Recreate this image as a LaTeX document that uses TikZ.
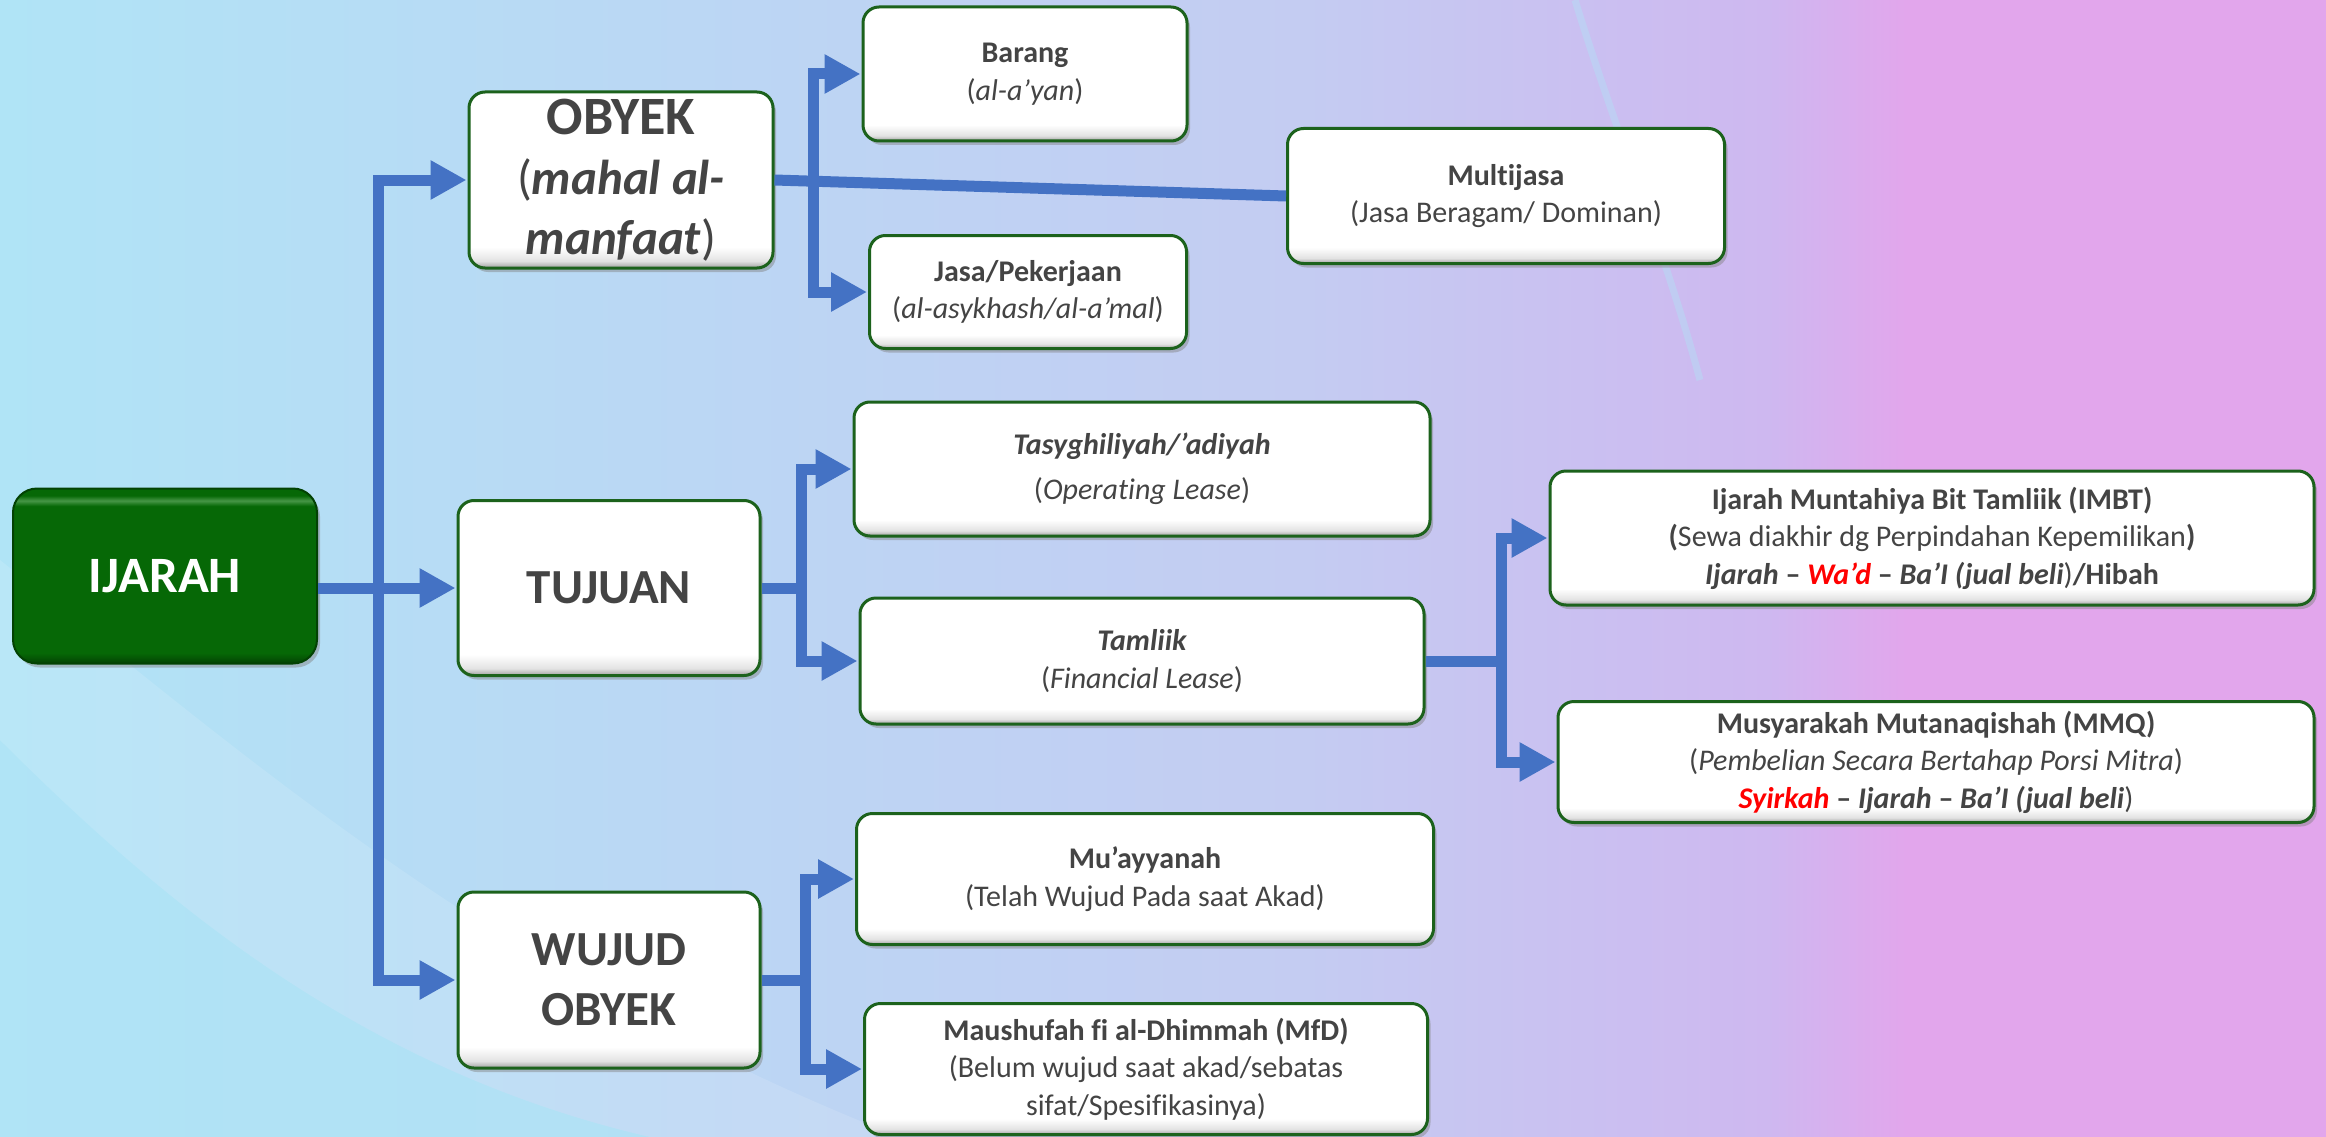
\documentclass[tikz,border=0pt]{standalone}
\usepackage{fontspec}
\setmainfont{Carlito}[Ligatures=NoCommon]
\usetikzlibrary{arrows.meta,shadows}
\definecolor{lineblue}{RGB}{68,114,196}
\definecolor{boxgreen}{RGB}{28,98,28}
\definecolor{txt}{RGB}{68,68,68}
\definecolor{ijgreen}{RGB}{6,104,6}
\definecolor{ijdark}{RGB}{3,66,3}
\definecolor{ijlight}{RGB}{70,150,70}
\definecolor{bevelgray}{RGB}{160,160,160}
\definecolor{bgA}{RGB}{176,228,246}
\definecolor{bgB}{RGB}{196,204,242}
\definecolor{bgC}{RGB}{206,184,240}
\definecolor{bgD}{RGB}{226,166,236}
\definecolor{redtext}{RGB}{255,0,0}
\pgfdeclareverticalshading{bevel}{100bp}{color(0bp)=(bevelgray); color(25bp)=(bevelgray); color(27bp)=(white!70!bevelgray); color(31bp)=(white); color(100bp)=(white)}
\pgfdeclareverticalshading{ijshade}{100bp}{color(0bp)=(ijdark); color(25bp)=(ijdark); color(28bp)=(ijgreen); color(70bp)=(ijgreen); color(71.5bp)=(ijlight); color(73bp)=(ijgreen); color(75bp)=(ijgreen); color(100bp)=(ijgreen)}
\pgfdeclarehorizontalshading{bgshade}{100bp}{color(0bp)=(bgA); color(25bp)=(bgA); color(40bp)=(bgB!55!bgA); color(53bp)=(bgB); color(63bp)=(bgC); color(66bp)=(bgD); color(75bp)=(bgD); color(100bp)=(bgD)}
\newcommand\myBig{\fontsize{49}{60}\selectfont}
\newcommand\myHuge{\fontsize{54}{60}\selectfont}
\newcommand\mySmall{\fontsize{30}{37.5}\selectfont}
\newcommand\myWide{\fontsize{30}{45}\selectfont}
\newcommand\myIj{\fontsize{51}{60}\selectfont}
\tikzset{
 box/.style={draw=boxgreen, line width=3pt, rounded corners=16pt, shading=bevel,
   drop shadow={opacity=0.45, shadow xshift=3pt, shadow yshift=-4pt},
   align=center, text=txt, inner sep=0pt, font=\mySmall},
 bigbox/.style={box, font=\myBig},
 ijbox/.style={draw=ijdark, line width=2pt, rounded corners=24pt, shading=ijshade,
   drop shadow={opacity=0.45, shadow xshift=3pt, shadow yshift=-4pt},
   align=center, text=white, inner sep=0pt, font=\myIj\bfseries},
 link/.style={draw=lineblue, line width=11pt},
 vlink/.style={link, line cap=rect},
 arr/.style={link, -{Triangle[length=36pt,width=37pt]}, shorten >=1pt},
}
\begin{document}
\begin{tikzpicture}[x=1pt,y=-1pt]
\shade[shading=bgshade] (0,0) rectangle (2326,1137);
\useasboundingbox (0,0) rectangle (2326,1137);
% background swirls
\fill[bgA, opacity=0.75] (0,740) .. controls (160,900) and (360,1070) .. (650,1137) -- (0,1137) -- cycle;
\fill[white, opacity=0.12] (0,560) .. controls (250,760) and (500,980) .. (900,1137) -- (650,1137) .. controls (360,1070) and (160,900) .. (0,740) -- cycle;
\draw[bgA, line width=7pt, opacity=0.4] (1575,0) .. controls (1615,130) and (1665,250) .. (1700,380);

% nodes
\node[ijbox, minimum width=304pt, minimum height=175pt] (ij) at (165,576) {IJARAH};
\node[bigbox, minimum width=304pt, minimum height=176pt] (obyek) at (621,180)
  {{\myHuge\bfseries OBYEK}\\(\textbf{\textit{mahal al-}}\\\textbf{\textit{manfaat}})};
\node[bigbox, minimum width=302pt, minimum height=175pt] (tujuan) at (609,588) {\bfseries TUJUAN};
\node[bigbox, minimum width=302pt, minimum height=176pt] (wujud) at (609,980) {\bfseries WUJUD\\\bfseries OBYEK};

\node[box, minimum width=324pt, minimum height=134pt] (barang) at (1025,74)
  {{\bfseries Barang}\\(\textit{al-a’yan})};
\node[box, minimum width=437pt, minimum height=135pt] (multi) at (1506,196)
  {{\bfseries Multijasa}\\(Jasa Beragam/ Dominan)};
\node[box, minimum width=317pt, minimum height=113pt] (jasa) at (1028,292)
  {{\bfseries Jasa/Pekerjaan}\\(\textit{al-asykhash/al-a’mal})};
\node[box, font=\myWide, minimum width=576pt, minimum height=134pt] (tasy) at (1142,469)
  {{\bfseries\itshape Tasyghiliyah/’adiyah}\\(\textit{Operating Lease})};
\node[box, minimum width=564pt, minimum height=126pt] (tam) at (1142,661)
  {{\bfseries\itshape Tamliik}\\(\textit{Financial Lease})};
\node[box, minimum width=764pt, minimum height=134pt] (imbt) at (1932,538)
  {{\bfseries Ijarah Muntahiya Bit Tamliik (IMBT)}\\{\bfseries(}Sewa diakhir dg Perpindahan Kepemilikan{\bfseries)}\\{\bfseries\itshape Ijarah \textup{–} {\color{redtext}Wa’d} \textup{–} Ba’I (jual beli})\textbf{/Hibah}};
\node[box, minimum width=756pt, minimum height=121pt] (mmq) at (1936,762)
  {{\bfseries Musyarakah Mutanaqishah (MMQ)}\\(\textit{Pembelian Secara Bertahap Porsi Mitra})\\{\bfseries\itshape {\color{redtext}Syirkah} \textup{–} Ijarah \textup{–} Ba’I (jual beli})};
\node[box, minimum width=577pt, minimum height=131pt] (mu) at (1145,879)
  {{\bfseries Mu’ayyanah}\\(Telah Wujud Pada saat Akad)};
\node[box, minimum width=563pt, minimum height=131pt] (mfd) at (1146,1069)
  {{\bfseries Maushufah fi al-Dhimmah (MfD)}\\(Belum wujud saat akad/sebatas\\sifat/Spesifikasinya)};

% junction columns
\coordinate (jT) at (378,0);
\coordinate (jO) at (813,0);
\coordinate (jU) at (801,0);
\coordinate (jM) at (1501,0);
\coordinate (jW) at (805,0);

% main trunk
\draw[vlink] (obyek.west -| jT) -- (wujud.west -| jT);
\draw[arr] (ij.east |- tujuan.west) -- (tujuan.west);
\draw[arr] (obyek.west -| jT) -- (obyek.west);
\draw[arr] (wujud.west -| jT) -- (wujud.west);

% obyek branch
\draw[link] (obyek.east) -- (multi.west);
\draw[vlink] (barang.west -| jO) -- (jasa.west -| jO);
\draw[arr] (barang.west -| jO) -- (barang.west);
\draw[arr] (jasa.west -| jO) -- (jasa.west);

% tujuan branch
\draw[link] (tujuan.east) -- (tujuan.east -| jU);
\draw[vlink] (tasy.west -| jU) -- (tam.west -| jU);
\draw[arr] (tasy.west -| jU) -- (tasy.west);
\draw[arr] (tam.west -| jU) -- (tam.west);

% tamliik branch
\draw[link] (tam.east) -- (tam.east -| jM);
\draw[vlink] (imbt.west -| jM) -- (mmq.west -| jM);
\draw[arr] (imbt.west -| jM) -- (imbt.west);
\draw[arr] (mmq.west -| jM) -- (mmq.west);

% wujud branch
\draw[link] (wujud.east) -- (wujud.east -| jW);
\draw[vlink] (mu.west -| jW) -- (mfd.west -| jW);
\draw[arr] (mu.west -| jW) -- (mu.west);
\draw[arr] (mfd.west -| jW) -- (mfd.west);
\end{tikzpicture}
\end{document}
